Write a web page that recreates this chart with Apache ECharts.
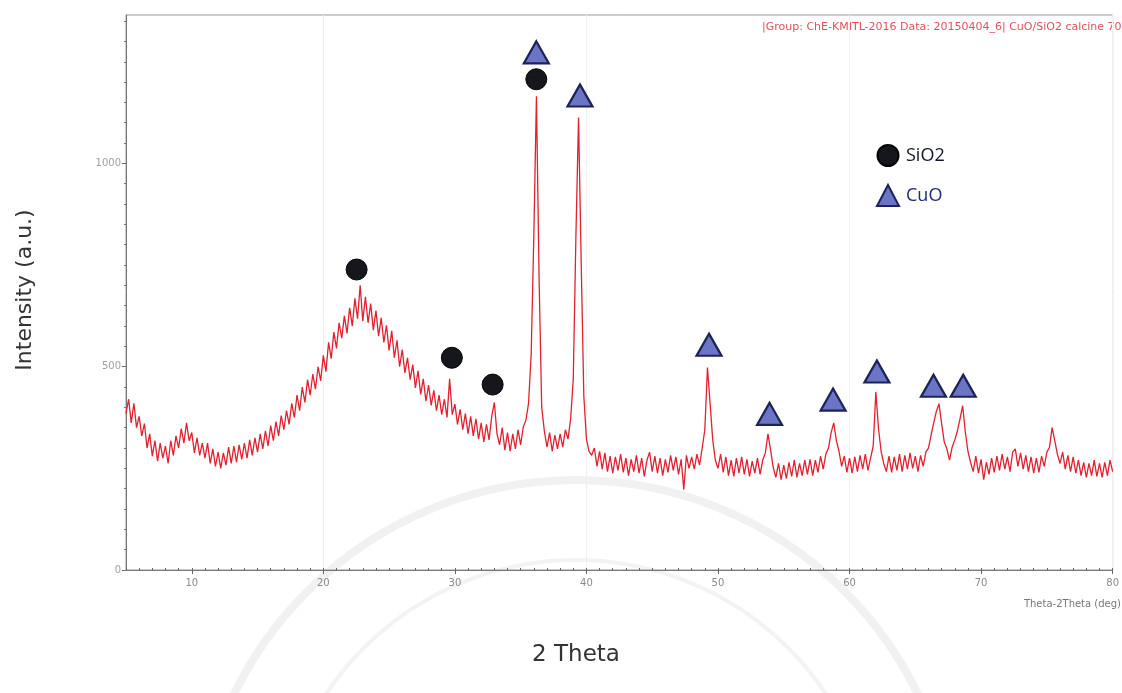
<!DOCTYPE html>
<html><head><meta charset="utf-8">
<script src="https://cdn.jsdelivr.net/npm/echarts@6/dist/echarts.min.js"></script>
<style>html,body{margin:0;padding:0;background:#fff}#c{width:1122px;height:693px}</style>
</head><body><div id="c"></div>
<script>
// 2-theta sampling grid (deg)
const thetaStart = 5, thetaStep = 0.2;
// intensity, one line per degree (5 samples each)
const intensity = [
385,420,362,410,350,
378,330,360,300,335,
280,318,268,312,275,
305,262,318,282,330,
300,348,312,362,318,
338,288,325,282,312,
275,312,262,298,255,
290,250,288,258,302,
262,305,265,308,272,
312,275,320,282,325,
290,335,298,342,305,
355,318,365,330,380,
345,392,358,410,375,
430,392,450,412,468,
430,482,445,500,465,
528,488,560,520,585,
545,608,570,625,582,
645,600,668,618,700,
612,672,608,655,590,
638,575,620,560,602,
540,588,522,565,500,
542,485,522,468,505,
448,490,432,470,415,
455,405,442,392,430,
382,420,375,470,382,
408,358,395,345,385,
335,378,330,372,322,
362,315,358,320,378,
412,335,308,350,295,
338,292,335,298,345,
308,352,368,410,530,
820,1165,720,400,342,
302,338,292,332,298,
335,302,345,322,372,
470,820,1113,760,430,
322,292,282,300,255,
292,248,288,242,280,
238,278,245,285,240,
275,232,272,242,282,
238,275,230,270,290,
242,280,238,275,232,
272,240,282,245,278,
235,272,198,282,250,
278,248,285,258,300,
345,498,410,320,270,
250,285,240,278,232,
270,230,275,238,278,
235,272,230,268,238,
275,235,270,288,335,
295,252,228,262,222,
258,225,265,230,270,
228,262,232,270,235,
272,232,270,240,280,
248,285,300,338,362,
318,292,255,280,240,
275,238,278,242,282,
248,285,245,275,305,
438,348,292,262,242,
280,240,278,245,285,
242,282,248,288,250,
280,242,282,255,290,
300,332,362,390,409,
360,315,298,270,302,
320,342,372,404,340,
292,265,242,280,238,
272,222,265,235,275,
240,280,245,285,248,
278,242,290,298,255,
288,248,282,242,278,
238,275,240,280,255,
290,302,350,318,285,
262,290,248,282,242,
278,238,270,232,265,
228,262,232,270,230,
262,228,265,232,270,
242
];
// peak markers [2theta, height of marker]
const sio2Markers = [[22.53,739],[29.77,522],[32.87,456],[36.19,1207]];
const cuoMarkers = [[36.19,1273],[39.51,1167],[49.32,554],[53.92,384],[58.75,419],[62.08,488],[66.38,453],[68.64,453]];
const xTickValues = [10,20,30,40,50,60,70,80];
const yTickValues = [0,500,1000];

const xMinor = []; for (let v = 5; v <= 80; v++) xMinor.push(v);
const yMinor = []; for (let v = 0; v <= 1350; v += 50) yMinor.push(v);
const pattern = intensity.map((v, i) => [Math.round((thetaStart + i * thetaStep) * 10) / 10, v]);

const chart = echarts.init(document.getElementById('c'), null, {renderer: 'canvas'});
chart.setOption({
  animation: false,
  backgroundColor: '#fff',
  grid: {left: 126, right: 2, top: 15, bottom: 123, show: true, borderColor: '#9a9a9a', borderWidth: 1},
  xAxis: [{
    type: 'value', min: 5, max: 80, position: 'bottom',
    axisLine: {lineStyle: {color: '#777', width: 1}},
    axisTick: {customValues: xTickValues, length: 4, lineStyle: {color: '#666'}},
    axisLabel: {customValues: xTickValues, color: '#8a8a8a', fontSize: 10, margin: 8, fontFamily: 'DejaVu Sans', formatter: v => String(v)},
    splitLine: {show: false}
  }, {
    type: 'value', min: 5, max: 80, position: 'bottom',
    axisLine: {show: false},
    axisTick: {customValues: xMinor, length: 2, inside: true, lineStyle: {color: '#666'}},
    axisLabel: {show: false},
    splitLine: {show: false}
  }, {
    type: 'value', min: 5, max: 80, position: 'top', show: true,
    axisLine: {show: false}, axisTick: {show: false}, axisLabel: {show: false},
    splitLine: {show: true, lineStyle: {color: '#f0f0f0', width: 1}}
  }],
  yAxis: [{
    type: 'value', min: 0, max: 1365,
    axisLine: {show: true, lineStyle: {color: '#777'}},
    axisTick: {show: true, customValues: yTickValues, length: 4, lineStyle: {color: '#666'}},
    axisLabel: {customValues: yTickValues, color: '#a0a0a0', fontSize: 10, margin: 5, fontFamily: 'DejaVu Sans', formatter: v => String(v)},
    splitLine: {show: false}
  }, {
    type: 'value', min: 0, max: 1365, position: 'left',
    axisLine: {show: false},
    axisTick: {show: true, customValues: yMinor, length: 2, lineStyle: {color: '#777'}},
    axisLabel: {show: false},
    splitLine: {show: false}
  }],
  legend: {
    orient: 'vertical', left: 871, top: 139, itemWidth: 22, itemHeight: 21, itemGap: 17,
    textStyle: {fontSize: 18, fontFamily: 'Open Sans', padding: [0, 0, 0, 2]},
    data: [{name: 'SiO2', textStyle: {color: '#10162a'}}, {name: 'CuO', textStyle: {color: '#1e2f6a'}}]
  },
  series: [{
    name: 'pattern', type: 'line', data: pattern, showSymbol: false, z: 2,
    lineStyle: {color: '#e2202f', width: 1.3}
  }, {
    name: 'SiO2', type: 'scatter', data: sio2Markers, symbol: 'circle', symbolSize: 21, z: 4,
    itemStyle: {color: '#16171d', borderColor: '#050505', borderWidth: 1, opacity: 1}
  }, {
    name: 'CuO', type: 'scatter', data: cuoMarkers, symbol: 'triangle', symbolSize: [25, 22], z: 4,
    itemStyle: {color: '#6c74c6', borderColor: '#1b2358', borderWidth: 2.2, opacity: 1}
  }],
  graphic: [
    {type: 'circle', silent: true, z: -10, shape: {cx: 576, cy: 860, r: 380}, style: {fill: 'none', stroke: '#f1f1f1', lineWidth: 8}},
    {type: 'circle', silent: true, z: -10, shape: {cx: 576, cy: 860, r: 300}, style: {fill: 'none', stroke: '#f3f3f3', lineWidth: 4}},
    {type: 'text', x: 25, y: 290, rotation: Math.PI / 2,
      style: {text: 'Intensity (a.u.)', fontSize: 22, fontFamily: 'DejaVu Sans', fill: '#333', textAlign: 'center', textVerticalAlign: 'middle'}},
    {type: 'text', x: 576, y: 655,
      style: {text: '2 Theta', fontSize: 23, fontFamily: 'DejaVu Sans', fill: '#333', textAlign: 'center', textVerticalAlign: 'middle'}},
    {type: 'text', x: 1121, y: 604,
      style: {text: 'Theta-2Theta (deg)', fontSize: 10, fontFamily: 'DejaVu Sans', fill: '#777', textAlign: 'right', textVerticalAlign: 'middle'}},
    {type: 'text', x: 762, y: 27,
      style: {text: '|Group: ChE-KMITL-2016 Data: 20150404_6| CuO/SiO2 calcine 700C', fontSize: 11, fontFamily: 'DejaVu Sans', fill: '#e2505c', textAlign: 'left', textVerticalAlign: 'middle'}}
  ]
});
</script>
</body></html>
